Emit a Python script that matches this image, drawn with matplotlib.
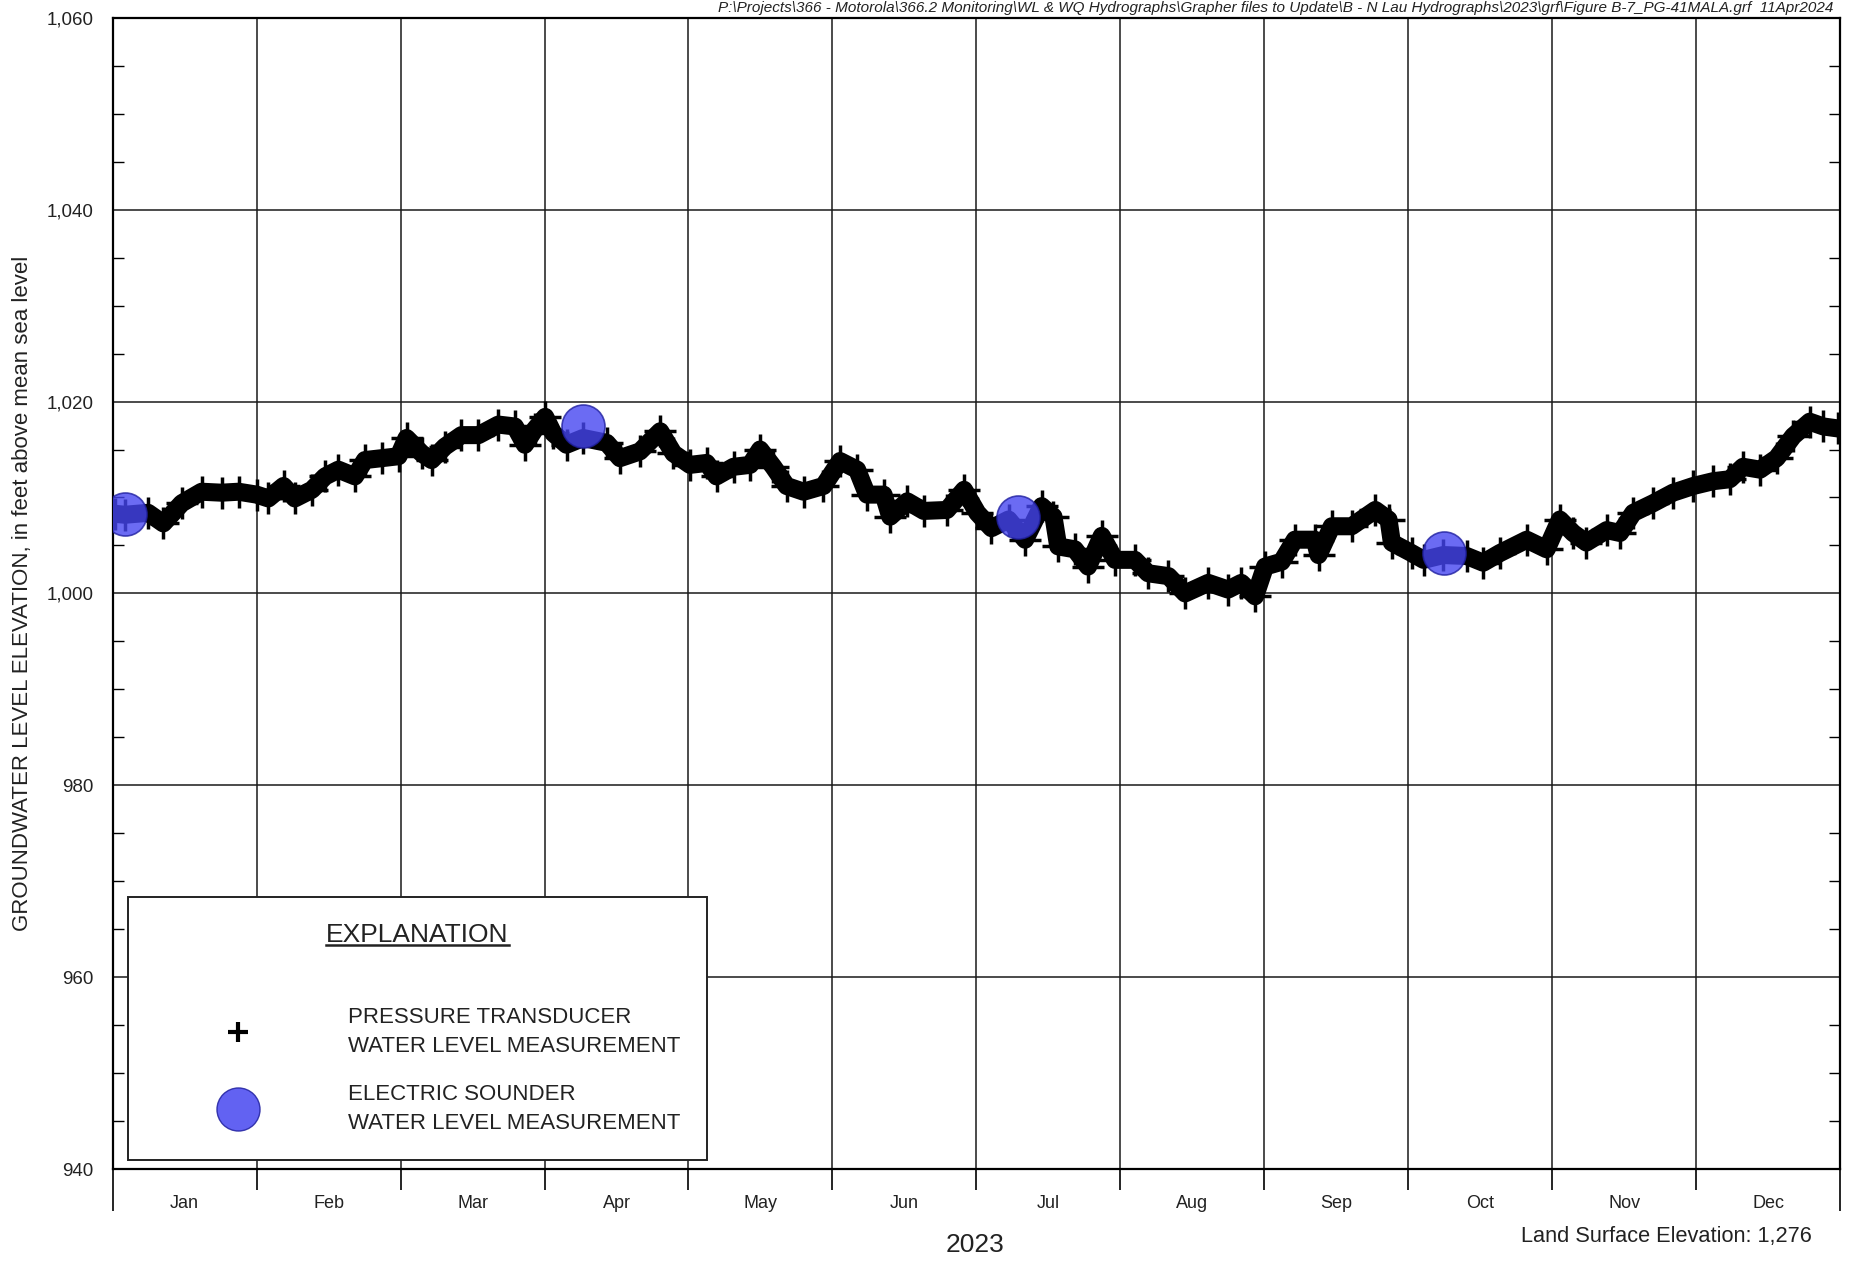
import matplotlib
matplotlib.use("Agg")
import matplotlib.pyplot as plt
from matplotlib.lines import Line2D
from matplotlib.ticker import FixedLocator, MultipleLocator, FuncFormatter

# ---- data (day of 2023, ft above msl) ----------
transducer_day = [
    0.5, 2.6, 7.5, 10.7, 14.6, 18.8, 23.0, 26.6, 30.4, 32.9, 36.1, 38.5,
    42.1, 44.9, 47.7, 51.2, 53.3, 56.9, 60.4, 62.1, 65.3, 67.4, 70.2, 73.7,
    77.3, 81.5, 85.0, 87.1, 89.2, 91.4, 93.1, 95.9, 99.4, 104.4, 107.2,
    111.4, 115.7, 118.5, 122.0, 125.5, 127.6, 131.2, 134.7, 136.8, 139.6,
    142.4, 146.0, 150.2, 153.7, 157.3, 159.4, 162.9, 164.3, 167.9, 171.4,
    176.3, 179.9, 182.7, 185.7, 189.3, 192.8, 196.3, 198.8, 199.8, 203.3,
    206.1, 209.0, 211.8, 216.0, 218.8, 223.1, 226.6, 231.5, 235.7, 238.5,
    241.4, 243.5, 247.0, 249.8, 254.0, 254.8, 257.6, 261.8, 266.8, 269.6,
    270.3, 274.5, 277.0, 281.2, 286.1, 289.6, 293.1, 298.8, 303.0, 305.8,
    308.6, 311.4, 315.7, 318.5, 321.3, 325.5, 329.7, 334.0, 338.2, 341.7,
    344.5, 348.1, 351.6, 355.1, 358.6, 361.5, 364.5,
]
transducer_level = [
    1008.3, 1008.2, 1008.4, 1007.3, 1009.4, 1010.6, 1010.5, 1010.6, 1010.3,
    1009.9, 1011.2, 1009.9, 1010.8, 1012.2, 1012.9, 1012.2, 1013.9, 1014.1,
    1014.3, 1016.2, 1014.6, 1013.9, 1015.3, 1016.5, 1016.5, 1017.6, 1017.4,
    1015.5, 1017.1, 1018.4, 1016.7, 1015.5, 1016.2, 1015.7, 1014.1, 1014.8,
    1016.9, 1014.6, 1013.4, 1013.6, 1012.2, 1013.2, 1013.4, 1015.0, 1013.2,
    1011.2, 1010.6, 1011.2, 1013.8, 1012.9, 1010.3, 1010.3, 1008.0, 1009.6,
    1008.6, 1008.7, 1010.8, 1008.4, 1006.8, 1007.7, 1005.6, 1009.1, 1008.0,
    1004.9, 1004.6, 1002.8, 1006.0, 1003.5, 1003.5, 1002.1, 1001.8, 1000.0,
    1001.1, 1000.4, 1001.1, 999.7, 1002.8, 1003.3, 1005.6, 1005.6, 1004.0,
    1007.0, 1007.0, 1008.7, 1007.7, 1005.3, 1004.2, 1003.5, 1004.0, 1003.9,
    1003.2, 1004.2, 1005.6, 1004.6, 1007.7, 1006.3, 1005.3, 1006.6, 1006.3,
    1008.4, 1009.4, 1010.5, 1011.2, 1011.7, 1011.9, 1013.2, 1012.9, 1014.1,
    1016.4, 1017.9, 1017.4, 1017.2,
]
sounder_day = [2.6, 99.3, 191.2, 281.4]
sounder_level = [1008.3, 1017.5, 1008.0, 1004.2]

month_labels = ["Jan", "Feb", "Mar", "Apr", "May", "Jun",
                "Jul", "Aug", "Sep", "Oct", "Nov", "Dec"]
year_days = 365.0
y_min, y_max = 940, 1060

plt.rcParams["font.family"] = ["Liberation Sans", "DejaVu Sans"]
INK = "#222222"

fig = plt.figure(figsize=(18.59, 12.63), dpi=100)
ax = fig.add_axes([0.0606, 0.0744, 0.9292, 0.9115])

# ---- series -------------------------------------------------------------
ax.plot(transducer_day, transducer_level, color="black", lw=13,
        marker="+", ms=23, mew=2.5, solid_joinstyle="round", zorder=3)
ax.plot(sounder_day, sounder_level, linestyle="none", marker="o", ms=31,
        markerfacecolor="#4646f0", markeredgecolor="#2020a0", mew=1.2,
        alpha=0.8, zorder=4)

# ---- axes ---------------------------------------------------------------
ax.set_xlim(0, year_days)
ax.set_ylim(y_min, y_max)
bounds = [year_days / 12 * k for k in range(13)]
mids = [year_days / 12 * (k + 0.5) for k in range(12)]
ax.xaxis.set_major_locator(FixedLocator(bounds))
ax.xaxis.set_minor_locator(FixedLocator(mids))
ax.xaxis.set_major_formatter(FuncFormatter(lambda v, p: ""))
ax.xaxis.set_minor_formatter(FuncFormatter(
    lambda v, p: month_labels[min(int(v // (year_days / 12)), 11)]))
ax.tick_params(axis="x", which="major", direction="out", length=15,
               width=1.2, color="black")
ax.tick_params(axis="x", which="minor", length=0, pad=18.5, labelsize=13,
               labelcolor=INK)
ticks = ax.xaxis.get_major_ticks()
ticks[0].tick1line.set_markersize(30)
ticks[-1].tick1line.set_markersize(30)

ax.yaxis.set_major_locator(MultipleLocator(20))
ax.yaxis.set_minor_locator(MultipleLocator(5))
ax.yaxis.set_major_formatter(FuncFormatter(lambda v, p: f"{int(v):,}"))
ax.tick_params(axis="y", which="major", length=0, pad=14, labelsize=13.5,
               labelcolor=INK)
ax.tick_params(axis="y", which="minor", direction="in", length=8,
               width=1.0, left=True, right=True)

ax.grid(which="major", color="#1a1a1a", lw=1.1)
ax.set_axisbelow(True)
for s in ax.spines.values():
    s.set_linewidth(1.6)
    s.set_color("black")

# ---- explanation box ----------------------------------------------------
handles = [
    Line2D([], [], linestyle="none", marker="+", ms=15, mew=3, color="black"),
    Line2D([], [], linestyle="none", marker="o", ms=31,
           markerfacecolor="#4646f0", markeredgecolor="#2020a0", alpha=0.85),
]
labels = ["PRESSURE TRANSDUCER\nWATER LEVEL MEASUREMENT",
          "ELECTRIC SOUNDER\nWATER LEVEL MEASUREMENT"]
leg = ax.legend(handles, labels, loc="lower left",
                bbox_to_anchor=(0.0089, 0.0075), title="EXPLANATION",
                fontsize=16, title_fontsize=19, frameon=True, fancybox=False,
                edgecolor=INK, framealpha=1, borderpad=1.2,
                handlelength=7.5, handletextpad=1.2, labelspacing=1.2,
                borderaxespad=0)
leg.get_frame().set_linewidth(1.4)
for t in leg.get_texts():
    t.set_color(INK)
    t.set_linespacing(1.5)
leg.get_title().set_color(INK)
leg._legend_box.sep = 43
leg.set_zorder(6)

# ---- figure text --------------------------------------------------------
fig.text(0.012, 0.53,
         "GROUNDWATER LEVEL ELEVATION, in feet above mean sea level",
         rotation=90, ha="center", va="center", fontsize=16, color=INK)
fig.text(0.5245, 0.0145, "2023", ha="center", va="center", fontsize=19,
         color=INK)
fig.text(0.9747, 0.0206, "Land Surface Elevation: 1,276", ha="right",
         va="center", fontsize=15.7, color=INK)
fig.text(0.986, 0.999,
         "P:\\Projects\\366 - Motorola\\366.2 Monitoring\\WL & WQ Hydrographs"
         "\\Grapher files to Update\\B - N Lau Hydrographs\\2023\\grf\\"
         "Figure B-7_PG-41MALA.grf  11Apr2024",
         ha="right", va="top", fontsize=11, style="italic", color=INK)

# underline the legend title
fig.canvas.draw()
renderer = fig.canvas.get_renderer()
bb = leg.get_title().get_window_extent(renderer)
fig.add_artist(Line2D([bb.x0, bb.x1], [bb.y0 + 2, bb.y0 + 2], transform=None,
                      color=INK, lw=1.8))

fig.savefig("out.png", dpi=100, facecolor="white")
